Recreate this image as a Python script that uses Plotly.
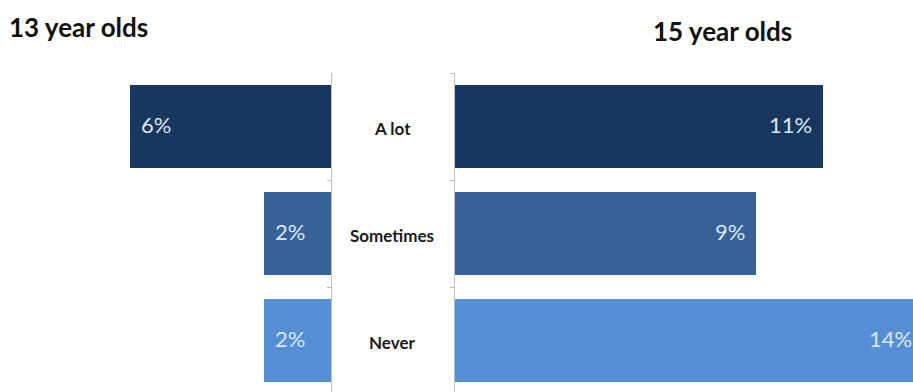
import plotly.graph_objects as go

categories = ["A lot", "Sometimes", "Never"]
values_13 = [6, 2, 2]
values_15 = [11, 9, 14]
colors = ["#17375E", "#386196", "#558ED5"]
titles = ["13 year olds", "15 year olds"]

W, H = 913, 392
top = 73
ypos = list(range(len(categories)))

fig = go.Figure()
fig.add_trace(go.Bar(y=ypos, x=values_13, orientation="h", width=0.78,
                     marker=dict(color=colors, line=dict(width=0)),
                     xaxis="x", yaxis="y", showlegend=False, hoverinfo="skip"))
fig.add_trace(go.Bar(y=ypos, x=values_15, orientation="h", width=0.78,
                     marker=dict(color=colors, line=dict(width=0)),
                     xaxis="x2", yaxis="y2", showlegend=False, hoverinfo="skip"))

px_per_unit = 33.45
left_edge = 331
right_edge = 455
x1_range = [left_edge / px_per_unit, 0]
x2_range = [0, (W - right_edge) / px_per_unit]
x1_dom = [0, left_edge / W]
x2_dom = [right_edge / W, 1]
yr = [-0.5 + (H - top) / 107.0, -0.5]


def x2_to_paper(v):
    return x2_dom[0] + (v - x2_range[0]) / (x2_range[1] - x2_range[0]) * (x2_dom[1] - x2_dom[0])


FAM = "Lato, Carlito, Calibri, Arial"
label_font = dict(family=FAM, size=22, color="#DCE6F2")
ann = []
for i, v in enumerate(values_13):
    ann.append(dict(x=v, y=i, xref="x", yref="y", text=f"{v}%", showarrow=False,
                    xanchor="left", xshift=9, yshift=2, font=label_font))
for i, v in enumerate(values_15):
    ann.append(dict(x=x2_to_paper(v), y=i, xref="paper", yref="y2", text=f"{v}%", showarrow=False,
                    xanchor="right", xshift=-9, yshift=2, font=label_font))
for i, c in enumerate(categories):
    ann.append(dict(x=392 / W, y=i, xref="paper", yref="y", text=f"<b>{c}</b>", showarrow=False,
                    xanchor="center", yshift=-2,
                    font=dict(family=FAM, size=17, color="#1a1a1a")))
title_font = dict(family=FAM, size=26, color="#111111")
ann.append(dict(x=7 / W, y=(H - 27) / (H - top), xref="paper", yref="paper", text=f"<b>{titles[0]}</b>",
                showarrow=False, xanchor="left", yanchor="middle", font=title_font))
ann.append(dict(x=722 / W, y=(H - 31) / (H - top), xref="paper", yref="paper", text=f"<b>{titles[1]}</b>",
                showarrow=False, xanchor="center", yanchor="middle", font=title_font))

axis_common = dict(showgrid=False, zeroline=False)
fig.update_layout(
    width=W, height=H,
    margin=dict(l=0, r=0, t=top, b=0, autoexpand=False),
    paper_bgcolor="white", plot_bgcolor="white",
    bargap=0,
    xaxis=dict(domain=x1_dom, range=x1_range, showticklabels=False,
               showline=False, fixedrange=True, **axis_common),
    xaxis2=dict(domain=x2_dom, range=x2_range, showticklabels=False,
                showline=False, fixedrange=True, **axis_common),
    yaxis=dict(anchor="x", side="right", range=yr, showline=True, linecolor="#BFBFBF", linewidth=1,
               ticks="inside", ticklen=4, tickcolor="#BFBFBF", tickmode="array",
               tickvals=[-0.5, 0.5, 1.5, 2.5], showticklabels=False, **axis_common),
    yaxis2=dict(anchor="x2", side="left", range=yr, showline=True, linecolor="#BFBFBF", linewidth=1,
                ticks="outside", ticklen=4, tickcolor="#BFBFBF", tickmode="array",
                tickvals=[-0.5, 0.5, 1.5, 2.5], showticklabels=False, **axis_common),
    annotations=ann,
)

fig.write_html("out.html", config={"displayModeBar": False},
               post_script="document.body.style.margin='0';document.body.style.overflow='hidden';")
